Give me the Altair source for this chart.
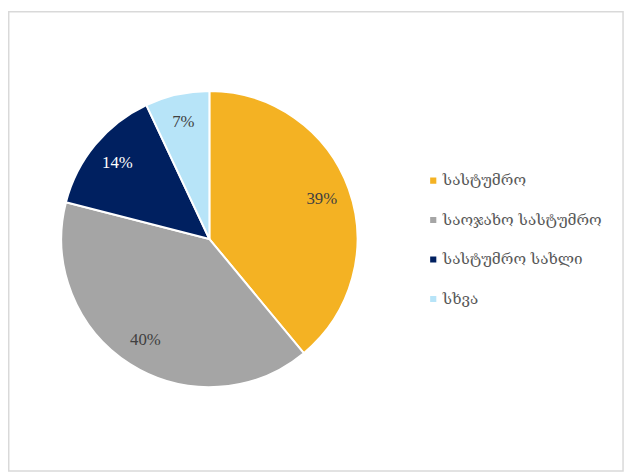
import altair as alt
import pandas as pd

categories = ["სასტუმრო", "საოჯახო სასტუმრო", "სასტუმრო სახლი", "სხვა"]
values = [39, 40, 14, 7]
labels = ["39%", "40%", "14%", "7%"]
colors = ["#F4B223", "#A5A5A5", "#002060", "#B7E4F8"]
label_colors = ["#404040", "#404040", "#FFFFFF", "#404040"]

df = pd.DataFrame({
    "cat": categories,
    "val": values,
    "lbl": labels,
    "lc": label_colors,
    "ord": list(range(len(categories))),
})

CX, CY = 204, 231

base = alt.Chart(df).encode(
    theta=alt.Theta("val:Q", stack=True),
    order=alt.Order("ord:Q"),
)

pie = base.mark_arc(outerRadius=150, stroke="white", strokeWidth=2).encode(
    x=alt.value(CX),
    y=alt.value(CY),
    color=alt.Color(
        "cat:N",
        scale=alt.Scale(domain=categories, range=colors),
        sort=categories,
        legend=alt.Legend(
            title=None,
            orient="none",
            legendX=423,
            legendY=164,
            symbolType="square",
            symbolSize=60,
            labelFontSize=15.5,
            labelFont="DejaVu Serif",
            labelColor="#595959",
            labelLimit=400,
            rowPadding=23,
            labelOffset=2,
        ),
    ),
)

text = base.mark_text(radius=121, fontSize=17, font="Liberation Serif").encode(
    x=alt.value(CX),
    y=alt.value(CY),
    text="lbl:N",
    color=alt.Color("lc:N", scale=None),
)

border = alt.Chart(pd.DataFrame({"a": [0]})).mark_rect(
    fill=None, stroke="#D9D9D9", strokeWidth=1.5
).encode(
    x=alt.value(0.75), x2=alt.value(623), y=alt.value(0.75), y2=alt.value(466)
)

chart = alt.layer(border, pie, text).properties(
    width=626, height=468, padding=0,
    autosize=alt.AutoSizeParams(type="none"),
).configure_view(stroke=None)

chart.save("out.html", embed_options={"renderer": "svg", "actions": False})
